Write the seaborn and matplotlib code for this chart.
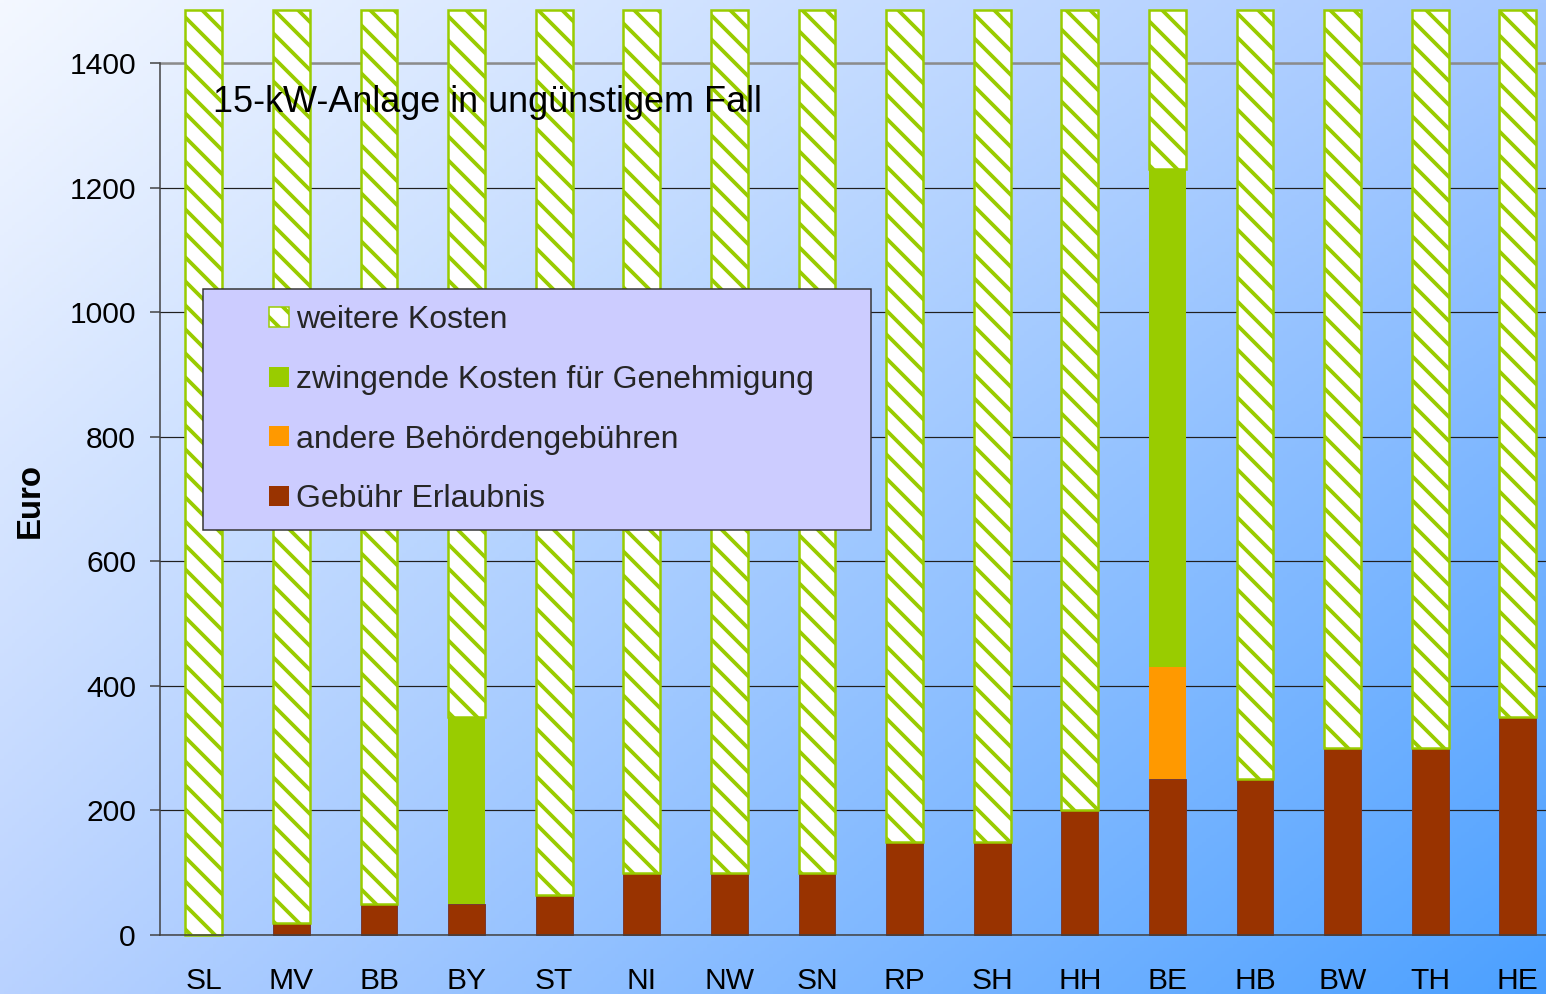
import numpy as np
import pandas as pd
import matplotlib
matplotlib.use("Agg")
import matplotlib.pyplot as plt
import seaborn as sns
from matplotlib.patches import Rectangle
from matplotlib.legend_handler import HandlerPatch

# data (Euro)
laender = ["SL", "MV", "BB", "BY", "ST", "NI", "NW", "SN",
           "RP", "SH", "HH", "BE", "HB", "BW", "TH", "HE"]
gebuehr_erlaubnis = [0, 20, 50, 50, 65, 100, 100, 100, 150, 150, 200, 250, 250, 300, 300, 350]
andere_gebuehren = [0, 0, 0, 0, 0, 0, 0, 0, 0, 0, 0, 180, 0, 0, 0, 0]
zwingende_kosten = [0, 0, 0, 300, 0, 0, 0, 0, 0, 0, 0, 800, 0, 0, 0, 0]
weitere_kosten = [1485, 1465, 1435, 1135, 1420, 1385, 1385, 1385,
                  1335, 1335, 1285, 255, 1235, 1185, 1185, 1135]

df = pd.DataFrame({
    "Land": laender,
    "gebuehr": gebuehr_erlaubnis,
    "andere": andere_gebuehren,
    "zwingend": zwingende_kosten,
    "weitere": weitere_kosten,
})

sns.set_theme(style="white")
plt.rcParams["font.family"] = ["Liberation Sans", "DejaVu Sans"]
HATCH_LW = 3.8
plt.rcParams["hatch.linewidth"] = HATCH_LW

W, H = 1546, 994
fig = plt.figure(figsize=(W / 72, H / 72), dpi=72)

# diagonal blue gradient background
tl = np.array([244, 248, 255]) / 255
tr = np.array([165, 200, 255]) / 255
bl = np.array([185, 210, 255]) / 255
br = np.array([75, 160, 255]) / 255
u = np.linspace(0, 1, 400)[None, :, None]
v = np.linspace(0, 1, 300)[:, None, None]
grad = tl * (1 - u) * (1 - v) + tr * u * (1 - v) + bl * (1 - u) * v + br * u * v
bg = fig.add_axes([0, 0, 1, 1], zorder=-1)
bg.imshow(grad, aspect="auto", extent=[0, 1, 0, 1])
bg.axis("off")

ax = fig.add_axes([160 / W, 59 / H, 16 * 87.6 / W, 872 / H])
ax.patch.set_alpha(0)

green = "#99CC00"
bottom = np.zeros(len(df))
sns.barplot(data=df, x="Land", y="gebuehr", color="#993300", saturation=1,
            width=0.42, edgecolor="#7a3a30", linewidth=1, ax=ax)
bottom += df["gebuehr"].values
sns.barplot(data=df, x="Land", y="andere", bottom=bottom, color="#FF9900",
            saturation=1, width=0.42, linewidth=0, ax=ax)
bottom += df["andere"].values
sns.barplot(data=df, x="Land", y="zwingend", bottom=bottom, color=green,
            saturation=1, width=0.42, linewidth=0, ax=ax)
bottom += df["zwingend"].values
sns.barplot(data=df, x="Land", y="weitere", bottom=bottom, color="white",
            saturation=1, width=0.42, edgecolor=green, linewidth=2.5,
            hatch="\\", ax=ax)
for p in ax.patches:
    p.set_clip_on(False)
    if p.get_hatch() and hasattr(p, "set_hatch_linewidth"):
        p.set_hatch_linewidth(HATCH_LW)

ax.set_xlim(-0.5, 15.5)
ax.set_ylim(0, 1400)
ax.set_yticks(range(0, 1401, 200))
ax.set_xlabel("")
ax.set_ylabel("")
ax.yaxis.grid(True, color="#202020", linewidth=1.2)
ax.set_axisbelow(True)

for side in ["left", "bottom"]:
    ax.spines[side].set_color("#404040")
    ax.spines[side].set_linewidth(1.5)
ax.spines["right"].set_visible(False)
ax.spines["top"].set_color("#8c8c8c")
ax.spines["top"].set_linewidth(2.5)
ax.spines["top"].set_zorder(0.6)

ax.set_xticks(np.arange(-0.5, 16, 1), minor=True)
ax.tick_params(axis="x", which="minor", length=10, width=1.5, color="#404040", direction="out")
ax.tick_params(axis="x", which="major", length=0, pad=32, labelsize=30, labelcolor="black")
ax.tick_params(axis="y", length=10, width=1.5, color="#404040", direction="out",
               pad=14, labelsize=30, labelcolor="black")
ax.tick_params(left=True, bottom=True)


def square(legend, orig_handle, xdescent, ydescent, width, height, fontsize):
    s = 20
    return Rectangle((-xdescent + width - s, -ydescent + (height - s) / 2), s, s)


handles = [
    Rectangle((0, 0), 1, 1, facecolor="white", edgecolor=green, hatch="\\", linewidth=1.5),
    Rectangle((0, 0), 1, 1, facecolor=green, linewidth=0),
    Rectangle((0, 0), 1, 1, facecolor="#FF9900", linewidth=0),
    Rectangle((0, 0), 1, 1, facecolor="#993300", linewidth=0),
]
labels = ["weitere Kosten", "zwingende Kosten für Genehmigung",
          "andere Behördengebühren", "Gebühr Erlaubnis"]
leg = ax.legend(handles, labels, loc="upper left",
                bbox_to_anchor=(203 / W, 1 - 526 / H, 668 / W, 237 / H),
                bbox_transform=fig.transFigure, mode="expand", borderaxespad=0,
                fontsize=32, frameon=True, facecolor="#CCCCFF", edgecolor="#333333",
                framealpha=1, fancybox=False, borderpad=0.5, labelspacing=0.93,
                handlelength=2.2, handletextpad=0.2,
                handler_map={Rectangle: HandlerPatch(patch_func=square)})
leg.get_frame().set_linewidth(1.5)

fig.text(213 / W, 1 - 102 / H, "15-kW-Anlage in ungünstigem Fall",
         fontsize=36, ha="left", va="center", color="black")
fig.text(30 / W, 1 - 500 / H, "Euro", rotation=90, fontsize=33,
         fontweight="bold", ha="center", va="center", color="black")

fig.savefig("out.png", dpi=72)
plt.close(fig)
